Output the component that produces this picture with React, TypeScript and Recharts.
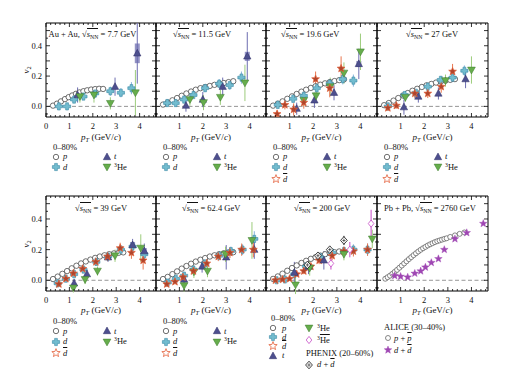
import React from 'react';
import { ScatterChart, Scatter, XAxis, YAxis, ReferenceLine, ReferenceArea, ErrorBar } from 'recharts';

// ---------- data: [pT, v2, statErr, sysErr] ----------
const p_7_7 = [[0.3,0.005],[0.47,0.018],[0.64,0.033],[0.81,0.048],[0.97,0.061],[1.12,0.072],[1.28,0.083],[1.43,0.092],[1.6,0.1],[1.76,0.106],[1.93,0.111],[2.1,0.114],[2.27,0.116],[2.44,0.115]];
const d_7_7 = [[0.55,0.0,0.01],[0.9,0.0,0.01],[1.2,0.045,0.015],[1.6,0.065,0.02],[2.1,0.085,0.03],[2.75,0.1,0.03],[3.2,0.09,0.03],[3.65,0.12,0.04]];
const t_7_7 = [[1.35,0.075,0.05],[2.95,0.13,0.06],[3.9,0.35,0.2,0.065]];
const he_7_7 = [[1.45,0.065,0.04],[2.05,0.075,0.05],[2.75,0.02,0.04],[3.82,0.09,0.15]];

const p_11_5 = [[0.3,0.012],[0.5,0.025],[0.7,0.04],[0.9,0.055],[1.1,0.07],[1.3,0.085],[1.5,0.098],[1.7,0.11],[1.9,0.12],[2.1,0.128],[2.3,0.135],[2.5,0.142],[2.7,0.148],[2.9,0.154],[3.1,0.16],[3.3,0.166]];
const d_11_5 = [[0.48,0.022,0.01],[0.84,0.022,0.01],[1.2,0.045,0.015],[1.6,0.075,0.02],[2.1,0.12,0.025],[2.7,0.15,0.03],[3.15,0.14,0.03],[3.65,0.19,0.04]];
const t_11_5 = [[1.28,0.005,0.04],[2.0,0.045,0.05],[2.85,0.13,0.06],[3.9,0.33,0.16,0.03]];
const he_11_5 = [[1.45,0.045,0.04],[2.03,0.025,0.05],[2.75,0.06,0.05],[3.8,0.155,0.12]];

const p_19_6 = [[0.3,0.005],[0.5,0.018],[0.7,0.033],[0.9,0.05],[1.1,0.066],[1.3,0.082],[1.5,0.097],[1.7,0.11],[1.9,0.122],[2.1,0.133],[2.3,0.143],[2.5,0.152],[2.7,0.16],[2.9,0.167],[3.1,0.173],[3.3,0.178]];
const d_19_6 = [[0.5,0.01,0.01],[1.15,0.05,0.02],[1.6,0.07,0.025],[2.15,0.12,0.03],[2.7,0.15,0.03],[3.25,0.18,0.035],[3.7,0.17,0.04]];
const db_19_6 = [[0.47,-0.05,0.02],[0.8,0.01,0.03],[1.17,-0.02,0.04],[1.6,0.025,0.04],[2.1,0.18,0.05],[2.7,0.12,0.06],[3.18,0.25,0.08]];
const t_19_6 = [[1.3,-0.015,0.04],[2.05,0.04,0.05],[2.88,0.09,0.05],[3.93,0.28,0.1,0.02]];
const he_19_6 = [[1.6,0.04,0.04],[2.12,0.07,0.05],[2.72,0.13,0.06],[3.3,0.22,0.07],[4.0,0.36,0.12]];

const p_27 = [[0.3,0.008],[0.5,0.022],[0.7,0.038],[0.9,0.055],[1.1,0.072],[1.3,0.088],[1.5,0.103],[1.7,0.116],[1.9,0.128],[2.1,0.139],[2.3,0.148],[2.5,0.157],[2.7,0.164],[2.9,0.17],[3.1,0.175],[3.3,0.18]];
const d_27 = [[0.46,0.0,0.01],[1.17,0.075,0.015],[1.65,0.09,0.02],[2.15,0.13,0.02],[2.7,0.175,0.025],[3.2,0.19,0.03],[3.7,0.235,0.035]];
const db_27 = [[0.46,-0.01,0.02],[0.82,0.005,0.02],[1.6,0.085,0.03],[2.15,0.085,0.03],[2.72,0.13,0.04],[3.2,0.23,0.05]];
const t_27 = [[1.14,-0.005,0.05],[1.75,0.065,0.04],[2.6,0.085,0.04],[3.75,0.18,0.06]];
const he_27 = [[1.2,0.06,0.03],[2.9,0.17,0.04],[4.0,0.24,0.09]];

const p_39 = [[0.3,0.008],[0.5,0.024],[0.7,0.042],[0.9,0.06],[1.1,0.078],[1.3,0.095],[1.5,0.11],[1.7,0.123],[1.9,0.135],[2.1,0.146],[2.3,0.155],[2.5,0.163],[2.7,0.17],[2.9,0.175],[3.1,0.179],[3.3,0.182]];
const d_39 = [[0.5,-0.02,0.01],[0.85,0.01,0.01],[1.2,0.04,0.015],[1.6,0.07,0.02],[2.15,0.12,0.02],[2.65,0.155,0.025],[3.2,0.2,0.03],[3.7,0.22,0.035],[4.2,0.17,0.05]];
const db_39 = [[0.55,-0.025,0.015],[0.85,0.01,0.015],[1.17,0.045,0.02],[1.57,0.075,0.02],[2.13,0.12,0.025],[2.63,0.155,0.03],[3.17,0.21,0.035],[3.65,0.18,0.04],[4.15,0.13,0.06]];
const t_39 = [[1.2,-0.02,0.03],[1.75,0.04,0.03],[2.65,0.15,0.03],[3.7,0.23,0.04,0.02],[4.2,0.19,0.05,0.02]];
const he_39 = [[1.17,-0.05,0.03],[1.67,0.005,0.03],[2.2,0.06,0.03],[2.95,0.16,0.04],[4.05,0.21,0.09]];

const p_62_4 = [[0.3,0.008],[0.5,0.022],[0.7,0.04],[0.9,0.058],[1.1,0.076],[1.3,0.093],[1.5,0.108],[1.7,0.122],[1.9,0.134],[2.1,0.145],[2.3,0.155],[2.5,0.163],[2.7,0.17],[2.9,0.176],[3.1,0.18],[3.3,0.183]];
const d_62_4 = [[0.5,-0.015,0.01],[0.85,0.01,0.01],[1.2,0.03,0.015],[1.6,0.07,0.02],[2.1,0.11,0.025],[2.7,0.16,0.03],[3.2,0.19,0.03],[3.7,0.2,0.035],[4.2,0.27,0.05]];
const db_62_4 = [[0.46,-0.025,0.015],[0.81,-0.01,0.015],[1.15,0.02,0.02],[1.6,0.06,0.02],[2.17,0.11,0.025],[2.66,0.155,0.03],[3.16,0.18,0.035],[3.66,0.2,0.04],[4.16,0.2,0.05]];
const t_62_4 = [[1.2,0.005,0.04],[1.97,0.09,0.04],[3.0,0.15,0.08],[4.2,0.2,0.06]];
const he_62_4 = [[1.2,-0.035,0.04],[1.62,0.055,0.04],[2.2,0.06,0.04],[2.97,0.17,0.05],[4.1,0.26,0.12]];

const p_200 = [[0.3,0.009],[0.5,0.025],[0.7,0.043],[0.9,0.062],[1.1,0.08],[1.3,0.097],[1.5,0.113],[1.7,0.127],[1.9,0.14],[2.1,0.151],[2.3,0.161],[2.5,0.17],[2.7,0.177],[2.9,0.183],[3.1,0.188]];
const d_200 = [[0.45,0.0,0.01],[0.8,0.005,0.01],[1.2,0.04,0.015],[1.7,0.09,0.02],[2.3,0.15,0.02],[2.8,0.18,0.025],[3.3,0.19,0.03],[3.7,0.2,0.035],[4.3,0.2,0.04]];
const db_200 = [[0.4,0.0,0.01],[0.7,0.005,0.01],[1.0,0.01,0.015],[1.3,0.04,0.015],[1.6,0.06,0.02],[1.9,0.09,0.02],[2.25,0.13,0.025],[2.8,0.16,0.03],[3.3,0.19,0.03],[3.7,0.19,0.035],[4.3,0.2,0.04]];
const t_200 = [[1.2,0.05,0.07],[1.8,0.09,0.05],[2.45,0.13,0.06]];
const he_200 = [[1.25,-0.03,0.06],[1.85,0.08,0.05],[3.3,0.17,0.04],[4.5,0.27,0.06]];
const heb_200 = [[2.75,0.11,0.04],[3.55,0.2,0.05],[4.45,0.37,0.09]];
const phx_200 = [[1.75,0.1,0.01],[2.2,0.16,0.015],[2.7,0.2,0.02],[3.3,0.26,0.03]];

const aliceP_2760 = [[0.35,0.01],[0.45,0.02],[0.55,0.03],[0.65,0.042],[0.75,0.055],[0.85,0.068],[0.95,0.082],[1.05,0.096],[1.15,0.11],[1.25,0.124],[1.35,0.138],[1.45,0.151],[1.55,0.164],[1.65,0.176],[1.75,0.188],[1.85,0.199],[1.95,0.209],[2.05,0.218],[2.15,0.227],[2.25,0.235],[2.35,0.242],[2.45,0.249],[2.55,0.255],[2.65,0.26],[2.75,0.265],[2.85,0.27],[2.95,0.274],[3.1,0.283],[3.3,0.293],[3.5,0.303],[3.7,0.312]];
const aliceD_2760 = [[0.75,0.03],[1.0,0.025],[1.3,0.02],[1.6,0.045],[1.85,0.06],[2.05,0.085],[2.3,0.115],[2.6,0.14],[2.85,0.2],[3.3,0.27],[3.8,0.31],[4.5,0.37]];

// ---------- axes ----------
const X_DOMAIN = [0, 4.7];
const Y_DOMAIN = [-0.07, 0.55];
const xTicks = [0,0.2,0.4,0.6,0.8,1,1.2,1.4,1.6,1.8,2,2.2,2.4,2.6,2.8,3,3.2,3.4,3.6,3.8,4,4.2,4.4,4.6];
const yTicks = [-0.05,0,0.05,0.1,0.15,0.2,0.25,0.3,0.35,0.4,0.45,0.5];
const xLabelsWithZero = [0,1,2,3,4];
const xLabelsNoZero = [1,2,3,4];
const yLabels = [0, 0.2, 0.4];

const FONT = '"Liberation Serif", "DejaVu Serif", "Times New Roman", serif';

const C = {
  dFill: '#72bccf', dStroke: '#3b8aa6', dErr: '#86b4dc',
  tFill: '#4d4f8e', tStroke: '#2f2f66', tErr: '#6d6db0',
  hFill: '#66ad4c', hStroke: '#3d7a2c', hErr: '#9ccc7c',
  sFill: '#b0452c', sStroke: '#e3603a', sErr: '#e8764e',
  hb: '#c64cc6', alice: '#9f47b3',
};

// ---------- marker shapes ----------
function starPts(cx: number, cy: number, ro: number, ri: number) {
  const pts: string[] = [];
  for (let i = 0; i < 10; i++) {
    const r = i % 2 === 0 ? ro : ri;
    const a = -Math.PI / 2 + (i * Math.PI) / 5;
    pts.push(`${cx + r * Math.cos(a)},${cy + r * Math.sin(a)}`);
  }
  return pts.join(' ');
}
const shapes: Record<string, (cx: number, cy: number) => any> = {
  circle: (cx, cy) => <circle cx={cx} cy={cy} r={2.7} fill="#fff" stroke="#333" strokeWidth={0.7} />,
  alicep: (cx, cy) => <circle cx={cx} cy={cy} r={2.5} fill="#fff" stroke="#555" strokeWidth={0.7} />,
  plus: (cx, cy) => {
    const a = 1.4, b = 3.6;
    return <path d={`M${cx - a},${cy - b}H${cx + a}V${cy - a}H${cx + b}V${cy + a}H${cx + a}V${cy + b}H${cx - a}V${cy + a}H${cx - b}V${cy - a}H${cx - a}Z`} fill={C.dFill} stroke={C.dStroke} strokeWidth={0.6} />;
  },
  triup: (cx, cy) => <polygon points={`${cx},${cy - 4} ${cx + 3.7},${cy + 2.7} ${cx - 3.7},${cy + 2.7}`} fill={C.tFill} stroke={C.tStroke} strokeWidth={0.5} />,
  tridown: (cx, cy) => <polygon points={`${cx - 3.9},${cy - 2.9} ${cx + 3.9},${cy - 2.9} ${cx},${cy + 3.9}`} fill={C.hFill} stroke={C.hStroke} strokeWidth={0.5} />,
  star: (cx, cy) => <polygon points={starPts(cx, cy, 4.1, 1.8)} fill={C.sFill} stroke={C.sStroke} strokeWidth={0.7} />,
  staropen: (cx, cy) => <polygon points={starPts(cx, cy, 4.4, 1.9)} fill="#fff" stroke={C.sStroke} strokeWidth={0.8} />,
  diamond: (cx, cy) => <polygon points={`${cx},${cy - 3.6} ${cx + 2.8},${cy} ${cx},${cy + 3.6} ${cx - 2.8},${cy}`} fill="#fff" stroke={C.hb} strokeWidth={0.8} />,
  phenix: (cx, cy) => (
    <g>
      <polygon points={`${cx},${cy - 3.8} ${cx + 3.4},${cy} ${cx},${cy + 3.8} ${cx - 3.4},${cy}`} fill="#fff" stroke="#111" strokeWidth={0.8} />
      <line x1={cx - 1.6} y1={cy} x2={cx + 1.6} y2={cy} stroke="#111" strokeWidth={0.6} />
      <line x1={cx} y1={cy - 1.8} x2={cx} y2={cy + 1.8} stroke="#111" strokeWidth={0.6} />
    </g>
  ),
  alicestar: (cx, cy) => <polygon points={starPts(cx, cy, 4, 1.7)} fill={C.alice} stroke={C.alice} strokeWidth={0.4} />,
};

type Series = { rows: number[][]; shape: string; err?: string };
const toData = (rows: number[][]) => rows.map((r) => ({ x: r[0], y: r[1], err: r[2] ?? 0, sys: r[3] ?? 0 }));

const P = (rows: number[][]): Series => ({ rows, shape: 'circle' });
const D = (rows: number[][]): Series => ({ rows, shape: 'plus', err: C.dErr });
const Tt = (rows: number[][]): Series => ({ rows, shape: 'triup', err: C.tErr });
const H = (rows: number[][]): Series => ({ rows, shape: 'tridown', err: C.hErr });
const S = (rows: number[][]): Series => ({ rows, shape: 'star', err: C.sErr });

// ---------- panel layout ----------
const TOP1 = 23, TOP2 = 196, PH1 = 94, PH2 = 95;
const LEFTS = [46, 156, 266, 377];
const WIDTHS = [110, 110, 111, 111];

type Panel = { col: number; row: number; series: Series[]; xLabels: number[]; yLab: boolean };
const panels: Panel[] = [
  { col: 0, row: 0, xLabels: xLabelsWithZero, yLab: true, series: [P(p_7_7), D(d_7_7), Tt(t_7_7), H(he_7_7)] },
  { col: 1, row: 0, xLabels: xLabelsNoZero, yLab: false, series: [P(p_11_5), D(d_11_5), Tt(t_11_5), H(he_11_5)] },
  { col: 2, row: 0, xLabels: xLabelsNoZero, yLab: false, series: [P(p_19_6), D(d_19_6), Tt(t_19_6), H(he_19_6), S(db_19_6)] },
  { col: 3, row: 0, xLabels: xLabelsNoZero, yLab: false, series: [P(p_27), D(d_27), Tt(t_27), H(he_27), S(db_27)] },
  { col: 0, row: 1, xLabels: xLabelsWithZero, yLab: true, series: [P(p_39), D(d_39), Tt(t_39), H(he_39), S(db_39)] },
  { col: 1, row: 1, xLabels: xLabelsNoZero, yLab: false, series: [P(p_62_4), D(d_62_4), Tt(t_62_4), H(he_62_4), S(db_62_4)] },
  { col: 2, row: 1, xLabels: xLabelsNoZero, yLab: false, series: [P(p_200), D(d_200), S(db_200), Tt(t_200), H(he_200), { rows: heb_200, shape: 'diamond', err: C.hb }, { rows: phx_200, shape: 'phenix', err: '#333' }] },
  { col: 3, row: 1, xLabels: xLabelsNoZero, yLab: false, series: [{ rows: aliceP_2760, shape: 'alicep' }, { rows: aliceD_2760, shape: 'alicestar' }] },
];

const PADL = 30, PADR = 10, PADT = 6, PADB = 24;

function PanelChart({ p }: { p: Panel }) {
  const left = LEFTS[p.col];
  const w = WIDTHS[p.col];
  const top = p.row === 0 ? TOP1 : TOP2;
  const h = p.row === 0 ? PH1 : PH2;
  const xTick = (props: any) => {
    const { x, y, payload } = props;
    const v = payload.value;
    const major = Math.abs(v - Math.round(v)) < 1e-6;
    const len = major ? 4 : 2;
    return (
      <g>
        <line x1={x} y1={y} x2={x} y2={y - len} stroke="#000" strokeWidth={0.8} />
        <line x1={x} y1={y - h} x2={x} y2={y - h + len} stroke="#000" strokeWidth={0.8} />
        {major && p.xLabels.includes(Math.round(v)) ? (
          <text x={x} y={y + 12} textAnchor="middle" fontSize={8.5} fontFamily={FONT} fill="#111">{Math.round(v)}</text>
        ) : null}
      </g>
    );
  };
  const yTick = (props: any) => {
    const { x, y, payload } = props;
    const v = payload.value;
    const tenth = Math.abs(v * 10 - Math.round(v * 10)) < 1e-6;
    const len = tenth ? 4 : 2;
    const lab = p.yLab && yLabels.some((l) => Math.abs(l - v) < 1e-6);
    return (
      <g>
        <line x1={x} y1={y} x2={x + len} y2={y} stroke="#000" strokeWidth={0.8} />
        <line x1={x + w} y1={y} x2={x + w - len} y2={y} stroke="#000" strokeWidth={0.8} />
        {lab ? (
          <text x={x - 4} y={y + 3} textAnchor="end" fontSize={8.5} fontFamily={FONT} fill="#111">{v.toFixed(1)}</text>
        ) : null}
      </g>
    );
  };
  return (
    <div style={{ position: 'absolute', left: left - PADL, top: top - PADT }}>
      <ScatterChart width={w + PADL + PADR} height={h + PADT + PADB} margin={{ top: PADT, right: PADR, left: 0, bottom: 0 }}>
        <XAxis type="number" dataKey="x" domain={X_DOMAIN} allowDataOverflow ticks={xTicks} interval={0} tick={xTick} tickLine={false} axisLine={false} tickSize={0} tickMargin={0} height={PADB} />
        <YAxis type="number" dataKey="y" domain={Y_DOMAIN} allowDataOverflow ticks={yTicks} interval={0} tick={yTick} tickLine={false} axisLine={false} tickSize={0} tickMargin={0} width={PADL} />
        <ReferenceLine y={0} stroke="#8a8a8a" strokeWidth={0.9} strokeDasharray="4 2.5" />
        {p.series.map((s, i) => (
          <Scatter key={i} data={toData(s.rows)} isAnimationActive={false} shape={(sp: any) => shapes[s.shape](sp.cx, sp.cy)}>
            {s.err ? <ErrorBar dataKey="sys" direction="y" width={0} stroke={s.err} strokeWidth={5} strokeOpacity={0.75} /> : null}
            {s.err ? <ErrorBar dataKey="err" direction="y" width={0} stroke={s.err} strokeWidth={1} /> : null}
          </Scatter>
        ))}
        <ReferenceArea x1={X_DOMAIN[0]} x2={X_DOMAIN[1]} y1={Y_DOMAIN[0]} y2={Y_DOMAIN[1]} fill="none" fillOpacity={0} stroke="#000" strokeWidth={1} ifOverflow="visible" />
      </ScatterChart>
    </div>
  );
}

// ---------- text helpers ----------
function Txt({ x, y, size = 8.5, center = false, children }: any) {
  return (
    <div style={{ position: 'absolute', left: x, top: y - size * 0.5, fontSize: size, lineHeight: '1', whiteSpace: 'nowrap', fontFamily: FONT, color: '#111', transform: center ? 'translateX(-50%)' : undefined }}>
      {children}
    </div>
  );
}
const Sqrt = () => (
  <span>√<span style={{ borderTop: '0.6px solid #111', paddingTop: 0 }}><i>s</i><span style={{ fontSize: '0.68em', verticalAlign: '-0.3em', lineHeight: 0 }}>NN</span></span></span>
);
const Bar = ({ children }: any) => <span style={{ textDecoration: 'overline' }}>{children}</span>;
const He3 = () => <span><span style={{ fontSize: '0.68em', verticalAlign: '0.45em', lineHeight: 0 }}>3</span>He</span>;

function Marker({ x, y, shape }: any) {
  return (
    <svg width={12} height={12} style={{ position: 'absolute', left: x - 6, top: y - 6, overflow: 'visible' }}>
      {shapes[shape](6, 6)}
    </svg>
  );
}
function Item({ mx, tx, y, shape, children }: any) {
  return (
    <>
      <Marker x={mx} y={y} shape={shape} />
      <Txt x={tx} y={y} size={8.5}>{children}</Txt>
    </>
  );
}

const titles = [
  { x: 48.5, y: 34, el: <>Au + Au, <Sqrt /> = 7.7 GeV</> },
  { x: 173, y: 34, el: <><Sqrt /> = 11.5 GeV</> },
  { x: 281, y: 34, el: <><Sqrt /> = 19.6 GeV</> },
  { x: 406, y: 34, el: <><Sqrt /> = 27 GeV</> },
  { x: 75, y: 208, el: <><Sqrt /> = 39 GeV</> },
  { x: 182, y: 208, el: <><Sqrt /> = 62.4 GeV</> },
  { x: 294, y: 208, el: <><Sqrt /> = 200 GeV</> },
  { x: 384, y: 208, el: <>Pb + Pb, <Sqrt /> = 2760 GeV</> },
];

function StdLegend({ L, y0, ys, withBar }: any) {
  return (
    <>
      <Txt x={L + 7} y={y0}>0–80%</Txt>
      <Item mx={L + 10} tx={L + 17} y={ys[0]} shape="circle"><i>p</i></Item>
      <Item mx={L + 10} tx={L + 17} y={ys[1]} shape="plus"><i>d</i></Item>
      {withBar ? <Item mx={L + 10} tx={L + 17} y={ys[2]} shape="staropen"><Bar><i>d</i></Bar></Item> : null}
      <Item mx={L + 61} tx={L + 68} y={ys[0]} shape="triup"><i>t</i></Item>
      <Item mx={L + 61} tx={L + 68} y={ys[1]} shape="tridown"><He3 /></Item>
    </>
  );
}

const PT = () => (<span><i>p</i><span style={{ fontSize: '0.7em', verticalAlign: '-0.3em', lineHeight: 0 }}><i>T</i></span> (GeV/<i>c</i>)</span>);

export default function App() {
  return (
    <div style={{ position: 'absolute', left: 0, top: 0, width: 512, height: 392, background: '#fff', overflow: 'hidden', fontFamily: FONT }}>
      {panels.map((p, i) => <PanelChart key={i} p={p} />)}
      {titles.map((t, i) => <Txt key={i} x={t.x} y={t.y}>{t.el}</Txt>)}
      {LEFTS.map((L, i) => <Txt key={'xa' + i} x={L + WIDTHS[i] / 2} y={137} size={9} center><PT /></Txt>)}
      {LEFTS.map((L, i) => <Txt key={'xb' + i} x={L + WIDTHS[i] / 2} y={310.5} size={9} center><PT /></Txt>)}
      {[70, 244].map((y, i) => (
        <div key={'v' + i} style={{ position: 'absolute', left: 27, top: y, transform: 'translate(-50%,-50%) rotate(-90deg)', fontSize: 9, fontFamily: FONT, whiteSpace: 'nowrap', lineHeight: '1' }}>
          <i>v</i><span style={{ fontSize: '0.7em', verticalAlign: '-0.3em' }}>2</span>
        </div>
      ))}
      <StdLegend L={LEFTS[0]} y0={147} ys={[156.5, 167, 179]} withBar={false} />
      <StdLegend L={LEFTS[1]} y0={147} ys={[156.5, 167, 179]} withBar={false} />
      <StdLegend L={LEFTS[2]} y0={147} ys={[156.5, 167, 179]} withBar />
      <StdLegend L={LEFTS[3]} y0={147} ys={[156.5, 167, 179]} withBar />
      <StdLegend L={LEFTS[0]} y0={321.5} ys={[331, 341.5, 353]} withBar />
      <StdLegend L={LEFTS[1]} y0={321.5} ys={[331, 341.5, 353]} withBar />
      {/* 200 GeV legend */}
      <Txt x={LEFTS[2] + 5} y={318}>0–80%</Txt>
      <Item mx={LEFTS[2] + 7} tx={LEFTS[2] + 16} y={328} shape="circle"><i>p</i></Item>
      <Item mx={LEFTS[2] + 7} tx={LEFTS[2] + 16} y={337} shape="plus"><i>d</i></Item>
      <Item mx={LEFTS[2] + 7} tx={LEFTS[2] + 16} y={346} shape="staropen"><Bar><i>d</i></Bar></Item>
      <Item mx={LEFTS[2] + 7} tx={LEFTS[2] + 16} y={355.5} shape="triup"><i>t</i></Item>
      <Item mx={LEFTS[2] + 43} tx={LEFTS[2] + 51} y={328} shape="tridown"><He3 /></Item>
      <Item mx={LEFTS[2] + 43} tx={LEFTS[2] + 51} y={340} shape="diamond"><span style={{ fontSize: '0.68em', verticalAlign: '0.45em', lineHeight: 0 }}>3</span><Bar>He</Bar></Item>
      <Txt x={LEFTS[2] + 40} y={353.5}>PHENIX (20–60%)</Txt>
      <Item mx={LEFTS[2] + 43} tx={LEFTS[2] + 51} y={364.5} shape="phenix"><i>d</i> + <Bar><i>d</i></Bar></Item>
      {/* ALICE legend */}
      <Txt x={LEFTS[3] + 7} y={327}>ALICE (30–40%)</Txt>
      <Item mx={LEFTS[3] + 11} tx={LEFTS[3] + 17} y={338} shape="alicep"><i>p</i> + <Bar><i>p</i></Bar></Item>
      <Item mx={LEFTS[3] + 11} tx={LEFTS[3] + 17} y={350} shape="alicestar"><i>d</i> + <Bar><i>d</i></Bar></Item>
    </div>
  );
}
